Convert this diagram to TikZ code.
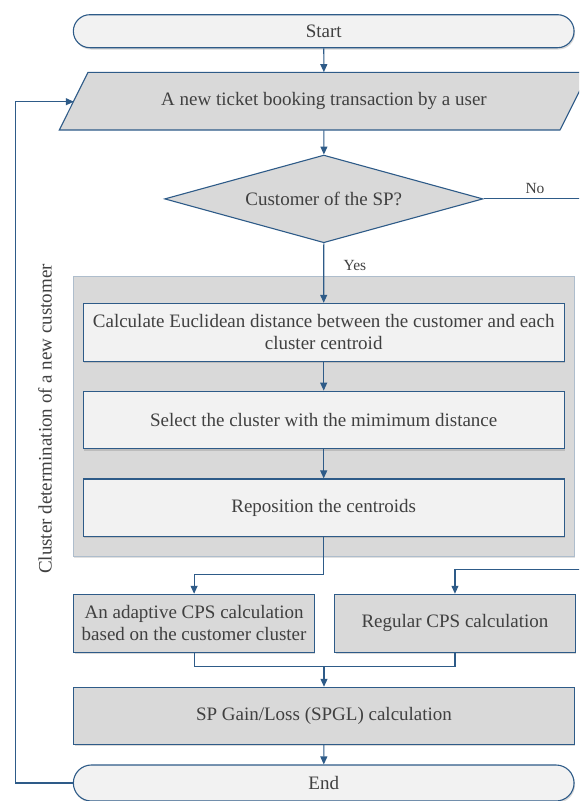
\documentclass[tikz,border=0pt]{standalone}
\usepackage{fontspec}
\setmainfont{Liberation Serif}
\usetikzlibrary{shapes.geometric, arrows.meta, shadows, positioning}

\definecolor{flowblue}{HTML}{2E5B88}
\definecolor{flowtext}{HTML}{404040}
\definecolor{lightfill}{HTML}{F2F2F2}
\definecolor{darkfill}{HTML}{D9D9D9}
\definecolor{groupline}{HTML}{AEBDCC}

\begin{document}
\begin{tikzpicture}[x=1pt, y=-1pt,
  every node/.style={text=flowtext, font=\fontsize{19}{22}\selectfont},
  box/.style={rectangle, draw=flowblue, line width=1.1pt, inner sep=2pt, align=center,
    drop shadow={shadow xshift=1pt, shadow yshift=-1.8pt, opacity=0.25, fill=black!60}},
  terminal/.style={box, fill=lightfill, minimum width=500.7},
  stepbox/.style={box, fill=lightfill, minimum width=480.7, minimum height=57.7},
  process/.style={box, fill=darkfill, minimum height=58},
  decision/.style={diamond, draw=flowblue, line width=1.1pt, fill=darkfill, inner sep=0pt, aspect=3.63},
  group/.style={rectangle, draw=groupline, line width=0.8pt, fill=darkfill,
    drop shadow={shadow xshift=1pt, shadow yshift=-1.8pt, opacity=0.2, fill=black!60}},
  lbl/.style={font=\fontsize{15.5}{18}\selectfont},
  line/.style={draw=flowblue, line width=1.1pt},
  arr/.style={line, -{Triangle[length=8pt, width=7pt]}}]

  \useasboundingbox (0,0) rectangle (579,801);
  \clip (0,0) rectangle (579,801);

  % Start and input
  \node[terminal, rounded corners=16.5pt, minimum height=33] (start) at (323.7,31.2) {Start};
  \draw[line, fill=darkfill] (88,72.3) -- (589,72.3) -- (560,130) -- (59.3,130) -- cycle;
  \node[minimum height=57.7, inner sep=0pt] (input) at (324,101.2) {A new ticket booking transaction by a user};
  \coordinate (inputw) at (73.8,101.7);

  % Decision
  \node[decision, minimum width=318.3, minimum height=87.7] (cust) at (323.8,198.9) {Customer of the SP?};

  % Cluster determination group
  \node[group, minimum width=500.7, minimum height=280] (cluster) at (323.7,416) {};
  \node[rotate=90] (clusterlbl) at (45,419) {Cluster determination of a new customer};
  \node[stepbox] (dist) at (323.7,332.2) {Calculate Euclidean distance between the customer and each\\cluster centroid};
  \node[stepbox, below=29pt of dist] (select) {Select the cluster with the mimimum distance};
  \node[stepbox, below=29pt of select] (repos) {Reposition the centroids};

  % CPS calculations
  \node[process, minimum width=240.4] (adapt) at (194.1,623.3) {An adaptive CPS calculation\\based on the customer cluster};
  \node[process, minimum width=240.7, right=19.2pt of adapt] (regular) {Regular CPS calculation};
  \node[process, minimum width=500.3, minimum height=57] (spgl) at (324,715.8) {SP Gain/Loss (SPGL) calculation};
  \node[terminal, rounded corners=18pt, minimum height=36] (end) at (323.7,783) {End};

  % Connectors
  \draw[arr] (start) -- (input);
  \draw[arr] (input) -- (cust);
  \draw[arr] (cust.south) -- node[lbl, right=16pt, pos=0.37] (yeslbl) {Yes} (dist.north);
  \draw[arr] (dist) -- (select);
  \draw[arr] (select) -- (repos);
  \draw[arr] (repos.south) -- ++(0,37.4) -| (adapt.north);

  % No branch
  \coordinate (noturn) at (620,569.3);
  \node[lbl] (nolbl) at (535,188) {No};
  \draw[arr] (cust.east) -| (noturn) -| (regular.north);

  % Merge
  \coordinate (join) at (324,666.7);
  \draw[line] (adapt.south) |- (join) -| (regular.south);
  \draw[arr] (join) -- (spgl.north);
  \draw[arr] (spgl) -- (end);

  % Loop back
  \draw[arr] (end.west) -- ++(-57.5,0) |- (inputw);

\end{tikzpicture}
\end{document}
